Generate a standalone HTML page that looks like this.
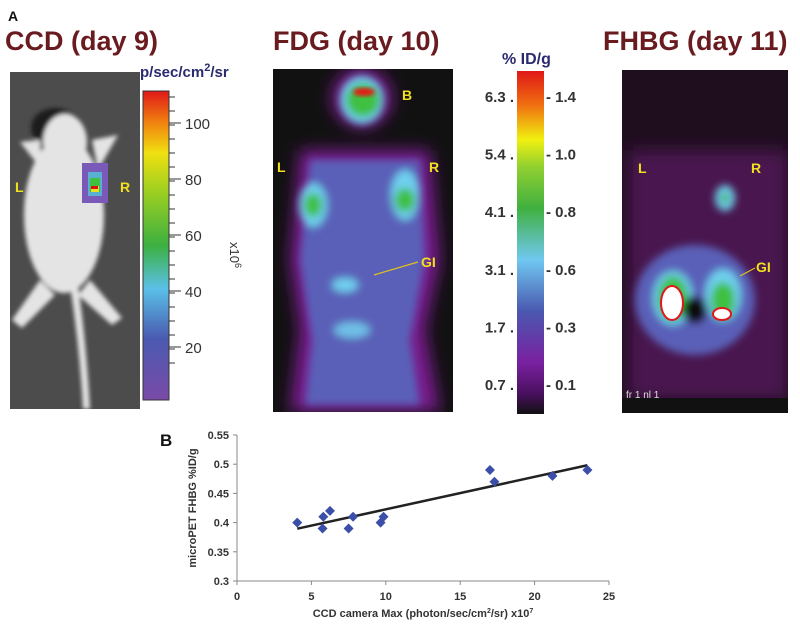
<!DOCTYPE html>
<html><head><meta charset="utf-8">
<style>
body{margin:0;background:#fff;width:800px;height:636px;overflow:hidden;font-family:"Liberation Sans",Arial,sans-serif}
svg{display:block}
.title{font-weight:bold;font-size:27px;fill:#6a1b1f}
.lbl{font-weight:bold;fill:#f0e020;font-size:14px}
.cb{font-weight:bold;font-size:15px;fill:#333}
.tk{font-weight:bold;font-size:11px;fill:#333}
</style></head>
<body>
<svg id="fig" width="800" height="636" viewBox="0 0 800 636">
<defs>
<filter id="bl2" x="-20%" y="-20%" width="140%" height="140%"><feGaussianBlur stdDeviation="2"/></filter>
<filter id="bl4" x="-30%" y="-30%" width="160%" height="160%"><feGaussianBlur stdDeviation="4"/></filter>
<filter id="bl8" x="-30%" y="-30%" width="160%" height="160%"><feGaussianBlur stdDeviation="8"/></filter>
<clipPath id="cMouse"><rect x="10" y="72" width="130" height="337"/></clipPath>
<clipPath id="cFdg"><rect x="273" y="69" width="180" height="343"/></clipPath>
<clipPath id="cFhbg"><rect x="622" y="70" width="166" height="343"/></clipPath>
<linearGradient id="ccdGrad" x1="0" y1="1" x2="0" y2="0">
<stop offset="0" stop-color="#7a4aa8"/><stop offset="0.2" stop-color="#4a5ab0"/><stop offset="0.36" stop-color="#5ac0e8"/><stop offset="0.5" stop-color="#3cb040"/><stop offset="0.68" stop-color="#a0d020"/><stop offset="0.8" stop-color="#f0e010"/><stop offset="0.9" stop-color="#f08010"/><stop offset="1" stop-color="#e01818"/>
</linearGradient>
<linearGradient id="idGrad" x1="0" y1="1" x2="0" y2="0">
<stop offset="0" stop-color="#111"/><stop offset="0.06" stop-color="#4a1060"/><stop offset="0.15" stop-color="#7a20a0"/><stop offset="0.3" stop-color="#4a58b0"/><stop offset="0.45" stop-color="#70c8f0"/><stop offset="0.6" stop-color="#40b040"/><stop offset="0.72" stop-color="#90d030"/><stop offset="0.8" stop-color="#f0f010"/><stop offset="0.9" stop-color="#f07010"/><stop offset="1" stop-color="#e01818"/>
</linearGradient>
</defs>

<text x="8" y="21" font-weight="bold" font-size="14" fill="#111">A</text>
<text class="title" x="5" y="50">CCD (day 9)</text>
<text class="title" x="273" y="50">FDG (day 10)</text>
<text class="title" x="603" y="50">FHBG (day 11)</text>

<!-- CCD mouse image -->
<g>
<rect x="10" y="72" width="130" height="337" fill="#4c4c4c"/>
<g clip-path="url(#cMouse)">
<g filter="url(#bl2)" fill="#e4e4e4">
<ellipse cx="55" cy="128" rx="24" ry="20" fill="#1e1e1e"/>
<ellipse cx="65" cy="142" rx="22" ry="28"/>
<ellipse cx="64" cy="215" rx="40" ry="78"/>
<path d="M40 140 L20 142 L42 170 Z"/>
<path d="M92 140 L118 135 L98 170 Z"/>
<path d="M40 280 L12 320 L22 328 L55 295 Z"/>
<path d="M90 280 L122 318 L112 325 L78 295 Z"/>
<path d="M70 285 Q80 350 83 409 L90 409 Q86 340 78 285 Z"/>
</g>
</g>
<rect x="82" y="163" width="26" height="40" fill="#7a5ab8"/>
<rect x="88" y="172" width="14" height="24" fill="#5ab0d0"/>
<rect x="90" y="178" width="10" height="14" fill="#40c040"/>
<rect x="91" y="186" width="8" height="6" fill="#e8e020"/>
<rect x="91" y="186" width="7" height="3" fill="#e01010"/>
<text class="lbl" x="15" y="192">L</text>
<text class="lbl" x="120" y="192">R</text>
</g>

<!-- CCD colorbar -->
<g>
<text x="140" y="77" font-weight="bold" font-size="15" fill="#2a2a70">p/sec/cm<tspan dy="-6" font-size="11">2</tspan><tspan dy="6">/sr</tspan></text>
<rect x="143" y="91" width="26" height="309" fill="url(#ccdGrad)" stroke="#333" stroke-width="1"/>
<g id="ccdTicks"></g>
<text transform="translate(230,242) rotate(90)" font-size="13" fill="#333">x10<tspan dy="-5" font-size="9">6</tspan></text>
</g>

<!-- FDG image -->
<g>
<rect x="273" y="69" width="180" height="343" fill="#111"/>
<g clip-path="url(#cFdg)">
<g filter="url(#bl8)">
<path d="M300 150 L430 150 L440 260 L425 330 L440 412 L290 412 L300 330 L290 260 Z" fill="#7a1a90"/>
<ellipse cx="362" cy="98" rx="30" ry="30" fill="#7a1a90"/>
</g>
<g filter="url(#bl4)">
<path d="M310 160 L420 160 L425 260 L410 340 L420 405 L305 405 L312 340 L300 260 Z" fill="#5a60b8"/>
<ellipse cx="362" cy="100" rx="22" ry="24" fill="#70d0f0"/>
<ellipse cx="363" cy="100" rx="17" ry="17" fill="#40c040"/>
<ellipse cx="313" cy="205" rx="14" ry="22" fill="#70d0f0"/>
<ellipse cx="313" cy="205" rx="9" ry="12" fill="#40c040"/>
<ellipse cx="405" cy="195" rx="14" ry="25" fill="#70d0f0"/>
<ellipse cx="405" cy="200" rx="10" ry="12" fill="#40c040"/>
<ellipse cx="345" cy="285" rx="13" ry="7" fill="#70d0f0"/>
<ellipse cx="352" cy="330" rx="18" ry="8" fill="#70c0e8"/>
</g>
<ellipse cx="364" cy="92" rx="11" ry="4" fill="#e81818" filter="url(#bl2)"/>
</g>
<text class="lbl" x="402" y="100">B</text>
<text class="lbl" x="277" y="172">L</text>
<text class="lbl" x="429" y="172">R</text>
<line x1="374" y1="275" x2="418" y2="262" stroke="#e0c020" stroke-width="1.2"/>
<text class="lbl" x="421" y="267">GI</text>
</g>

<!-- %ID/g colorbar -->
<g>
<text x="502" y="64" font-weight="bold" font-size="16" fill="#2a2a70">% ID/g</text>
<rect x="517" y="71" width="27" height="343" fill="url(#idGrad)"/>
<g id="idTicks"></g>
</g>

<!-- FHBG image -->
<g>
<rect x="622" y="70" width="166" height="343" fill="#1e0e1e"/>
<g clip-path="url(#cFhbg)">
<rect x="628" y="150" width="160" height="250" fill="#4a1450" filter="url(#bl8)"/>
<g filter="url(#bl4)">
<ellipse cx="695" cy="300" rx="60" ry="55" fill="#5a60b8"/>
<ellipse cx="725" cy="198" rx="10" ry="13" fill="#70d0f0"/>
<ellipse cx="725" cy="198" rx="4" ry="6" fill="#40b040"/>
<ellipse cx="673" cy="298" rx="20" ry="27" fill="#70d0f0"/>
<ellipse cx="673" cy="298" rx="15" ry="22" fill="#40c040"/>
<ellipse cx="723" cy="295" rx="18" ry="26" fill="#70d0f0"/>
<ellipse cx="723" cy="300" rx="12" ry="18" fill="#40c040"/>
<ellipse cx="695" cy="310" rx="12" ry="14" fill="#111"/>
</g>
</g>
<ellipse cx="672" cy="303" rx="11" ry="17" fill="#fff" stroke="#e01818" stroke-width="2"/>
<ellipse cx="722" cy="314" rx="9" ry="6" fill="#fff" stroke="#e01818" stroke-width="2"/>
<text class="lbl" x="638" y="173">L</text>
<text class="lbl" x="751" y="173">R</text>
<line x1="740" y1="276" x2="755" y2="268" stroke="#e0c020" stroke-width="1.2"/>
<text class="lbl" x="756" y="272">GI</text>
<rect x="622" y="398" width="166" height="15" fill="#111"/>
<text x="626" y="398" font-size="10" fill="#ddd">fr 1 nl 1</text>
</g>

<!-- Panel B chart -->
<text x="160" y="446" font-weight="bold" font-size="17" fill="#111">B</text>
<g id="chart"></g>
</svg>

<script>
var ccdTickVals=[100,80,60,40,20];
var idLeftTicks=["6.3","5.4","4.1","3.1","1.7","0.7"];
var idRightTicks=["1.4","1.0","0.8","0.6","0.3","0.1"];
var xTicks=[0,5,10,15,20,25];
var yTicks=[0.3,0.35,0.4,0.45,0.5,0.55];
var ccdVals=[4.05,5.8,5.75,6.25,7.5,7.8,9.65,9.85,17.0,17.3,21.2,23.55];
var fhbgVals=[0.40,0.41,0.39,0.42,0.39,0.41,0.40,0.41,0.49,0.47,0.48,0.49];

var NS="http://www.w3.org/2000/svg";
function mk(tag,attrs,parent,txt){var e=document.createElementNS(NS,tag);for(var k in attrs)e.setAttribute(k,attrs[k]);if(txt!=null)e.textContent=txt;parent.appendChild(e);return e;}

var ccdG=document.getElementById('ccdTicks');
function ccdY(v){return 123+(100-v)*2.8;}
ccdTickVals.forEach(function(v){
  mk('line',{x1:169,x2:181,y1:ccdY(v),y2:ccdY(v),stroke:'#333','stroke-width':1},ccdG);
  var t=mk('text',{x:185,y:ccdY(v)+6,'font-size':15,fill:'#333'},ccdG,String(v));
  
  
});
for(var i=0;i<20;i++){var yy=97+i*14;if(yy<398)mk('line',{x1:169,x2:175,y1:yy,y2:yy,stroke:'#333','stroke-width':1},ccdG);}

var idG=document.getElementById('idTicks');
idLeftTicks.forEach(function(s,i){
  var y=97+i*57.6;
  var t=mk('text',{x:514,y:y+5,'text-anchor':'end'},idG,s+' .');
  t.setAttribute('class','cb');
  
  
  var t2=mk('text',{x:546,y:y+5},idG,'- '+idRightTicks[i]);
  t2.setAttribute('class','cb');
  
  
});

var cg=document.getElementById('chart');
var X0=237,X1=609,Y0=581,Y1=435;
function sx(v){return X0+(v-0)/(25-0)*(X1-X0);}
function sy(v){return Y0-(v-0.3)/(0.55-0.3)*(Y0-Y1);}
var yax=mk('line',{x1:X0,x2:X0,y1:Y1,y2:Y0,stroke:'#888','stroke-width':1},cg);


var xax=mk('line',{x1:X0,x2:X1,y1:Y0,y2:Y0,stroke:'#888','stroke-width':1},cg);


xTicks.forEach(function(v){
  mk('line',{x1:sx(v),x2:sx(v),y1:Y0,y2:Y0+4,stroke:'#888'},cg);
  var t=mk('text',{x:sx(v),y:Y0+19,'text-anchor':'middle'},cg,String(v));
  t.setAttribute('class','tk');
  
  
});
yTicks.forEach(function(v){
  mk('line',{x1:X0-4,x2:X0,y1:sy(v),y2:sy(v),stroke:'#888'},cg);
  var t=mk('text',{x:X0-8,y:sy(v)+4,'text-anchor':'end'},cg,String(v));
  t.setAttribute('class','tk');
  
  
});
var n=ccdVals.length,mx=0,my=0;
for(var i=0;i<n;i++){mx+=ccdVals[i];my+=fhbgVals[i];}
mx/=n;my/=n;var sxy=0,sxx=0;
for(var i=0;i<n;i++){sxy+=(ccdVals[i]-mx)*(fhbgVals[i]-my);sxx+=(ccdVals[i]-mx)*(ccdVals[i]-mx);}
var b=sxy/sxx,a=my-b*mx;
var xmin=Math.min.apply(null,ccdVals),xmax=Math.max.apply(null,ccdVals);
var tl=mk('line',{x1:sx(xmin),y1:sy(a+b*xmin),x2:sx(xmax),y2:sy(a+b*xmax),stroke:'#222','stroke-width':2.5},cg);


ccdVals.forEach(function(v,i){
  var px=sx(v),py=sy(fhbgVals[i]);
  var p=mk('polygon',{points:(px)+','+(py-5)+' '+(px+5)+','+py+' '+px+','+(py+5)+' '+(px-5)+','+py,fill:'#3b4fa8'},cg);
  
  
});
var yt=mk('text',{transform:'translate(196,508) rotate(-90)','text-anchor':'middle','font-weight':'bold','font-size':'11',fill:'#333'},cg,'microPET FHBG %ID/g');


var xt=mk('text',{x:423,y:617,'text-anchor':'middle','font-weight':'bold','font-size':'11',fill:'#333'},cg,null);
xt.innerHTML='CCD camera Max (photon/sec/cm<tspan dy="-4" font-size="7">2</tspan><tspan dy="4">/sr) x10</tspan><tspan dy="-4" font-size="7">7</tspan>';


</script>
</body></html>
